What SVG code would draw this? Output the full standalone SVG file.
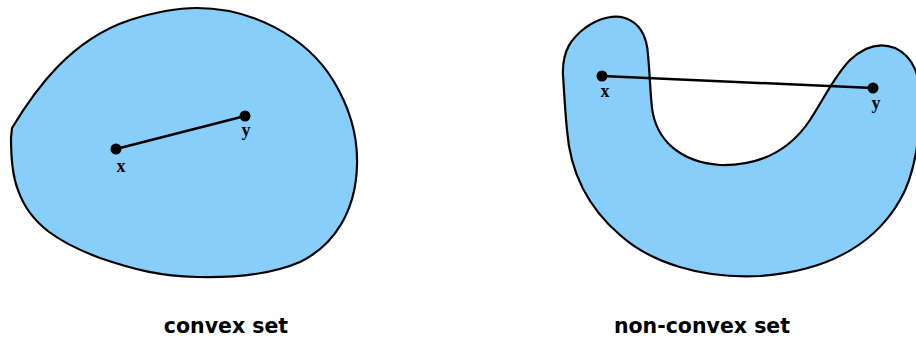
<svg xmlns="http://www.w3.org/2000/svg" width="916" height="342" viewBox="0 0 916 342">
<style>
.shape{fill:#87cefa;stroke:#000;stroke-width:2.2;stroke-linejoin:round}
.seg{stroke:#000;stroke-width:2.5;fill:none}
.dot{fill:#000}
.pl{font-family:"Liberation Serif","DejaVu Serif",serif;font-weight:bold;font-size:18px;text-anchor:middle;fill:#000}
.cap{font-family:"DejaVu Sans","Liberation Sans",sans-serif;font-weight:bold;font-size:20.5px;text-anchor:middle;fill:#000}
</style>
<rect width="916" height="342" fill="#fff"/>
<g id="convex-set">
<path class="shape" d="M 12,128 C 35,90 70,40 130,20 C 155,12 180,8 197,8 C 250,8 305,35 333,80 C 350,108 358,135 357,165 C 356,210 335,245 300,262 C 270,275 235,278 197,277 C 160,276 135,270 100,258 C 60,243 30,225 18,190 C 12,175 11,150 11,138 Z"/>
</g>
<g id="nonconvex-set">
<path class="shape" d="M 563,75 C 562,50 572,38 585,28 C 600,17 615,15 625,18 C 640,23 647,37 648,55 C 650,75 650,90 652,108 C 656,140 680,162 720,165 C 760,166 790,150 810,120 C 825,97 835,75 850,60 C 865,46 880,42 895,48 C 910,55 918,70 920,90 C 922,130 915,175 900,200 C 880,235 840,270 760,276 C 700,279 650,262 620,235 C 585,205 570,170 567,130 C 565,110 564,90 563,75 Z"/>
</g>
<g id="connectors">
<line class="seg" x1="116" y1="149" x2="245" y2="116"/>
<line class="seg" x1="602" y1="76" x2="873" y2="88"/>
</g>
<g id="point-x1"><circle class="dot" cx="116" cy="149" r="5.5"/><text class="pl" x="121" y="172">x</text></g>
<g id="point-y1"><circle class="dot" cx="245" cy="116" r="5.5"/><text class="pl" x="246" y="136">y</text></g>
<g id="point-x2"><circle class="dot" cx="602" cy="76" r="5.5"/><text class="pl" x="605" y="97">x</text></g>
<g id="point-y2"><circle class="dot" cx="873" cy="88" r="5.5"/><text class="pl" x="876" y="109">y</text></g>
<g id="label-convex"><text class="cap" x="226" y="333">convex set</text></g>
<g id="label-nonconvex"><text class="cap" x="702" y="333">non-convex set</text></g>
</svg>
